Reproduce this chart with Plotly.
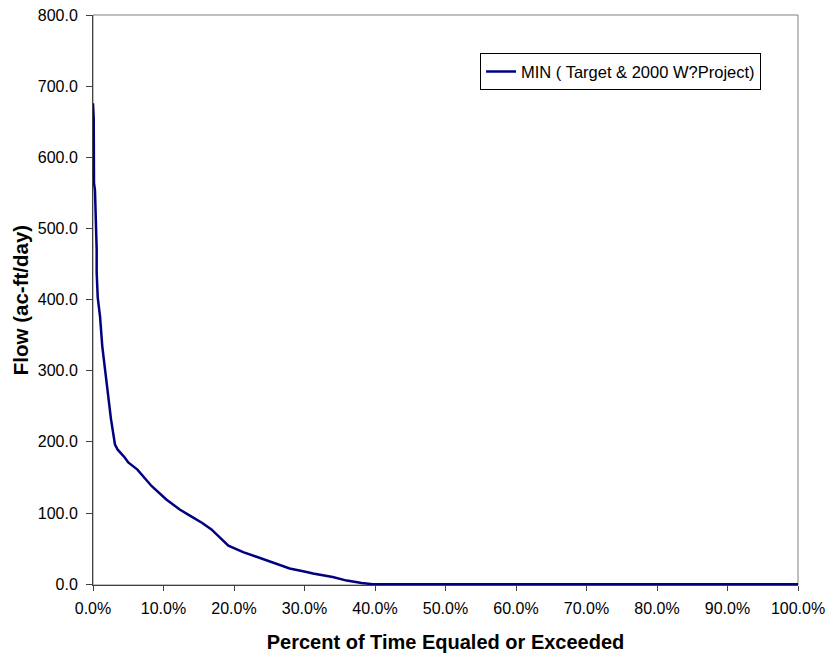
import plotly.graph_objects as go

# Flow duration curve
PERCENT_EXCEEDED = [0.0, 0.1, 0.14, 0.28, 0.52, 0.52, 0.67, 1.0, 1.32, 2.09, 2.55, 3.12,
                    3.5, 4.5, 5.0, 6.3, 8.3, 10.4, 12.3, 13.8, 15.5, 16.8, 17.6, 19.2,
                    21.3, 24.6, 27.9, 30.3, 31.2, 34.0, 36.0, 38.1, 39.7, 100.0]
FLOW = [676, 655, 564, 554, 470, 438, 403, 376, 334, 269, 232, 196,
        189, 178, 171, 161, 138, 119, 105, 96, 86, 77, 69, 54,
        45, 33, 22, 17, 15, 10, 5, 1.5, 0, 0]
SERIES_NAME = "MIN ( Target & 2000 W?Project)"

FONT = "Liberation Sans, Arial, sans-serif"

fig = go.Figure()
fig.add_trace(go.Scatter(
    x=[p / 100 for p in PERCENT_EXCEEDED],
    y=FLOW,
    mode="lines",
    name=SERIES_NAME,
    line=dict(color="#000080", width=2.5),
))

fig.update_layout(
    width=826,
    height=655,
    paper_bgcolor="white",
    plot_bgcolor="white",
    font=dict(family=FONT, color="black", size=16),
    margin=dict(l=93, r=28, t=15, b=70),
    showlegend=True,
    legend=dict(
        x=0.549, y=0.933, xanchor="left", yanchor="top",
        bordercolor="black", borderwidth=1,
        font=dict(size=16.5, family=FONT),
        bgcolor="white",
    ),
    xaxis=dict(
        range=[0, 1],
        dtick=0.1,
        tickformat=".1%",
        showgrid=False,
        zeroline=False,
        automargin=False,
        ticks="outside", ticklen=5, tickcolor="#404040",
        ticklabelstandoff=4,
        showline=True, linecolor="#404040", linewidth=1,
        layer="below traces",
        title=dict(text="<b>Percent of Time Equaled or Exceeded</b>",
                   font=dict(size=20), standoff=18),
    ),
    yaxis=dict(
        range=[-1.2, 800],
        tick0=0, dtick=100,
        tickformat=".1f",
        showgrid=False,
        zeroline=False,
        automargin=False,
        ticks="outside", ticklen=6, tickcolor="#404040",
        ticklabelstandoff=5,
        showline=True, linecolor="#404040", linewidth=1,
        layer="below traces",
        title=dict(text="<b>Flow (ac-ft/day)</b>", font=dict(size=20.5), standoff=3),
    ),
    shapes=[dict(type="rect", xref="paper", yref="paper", x0=0, y0=0, x1=1, y1=1,
                 line=dict(color="#808080", width=1), layer="below")],
)

# the page's default body margin would shift the figure by 8px
fig.write_html("out.html", config={"displayModeBar": False},
               post_script="document.body.style.margin='0';")
